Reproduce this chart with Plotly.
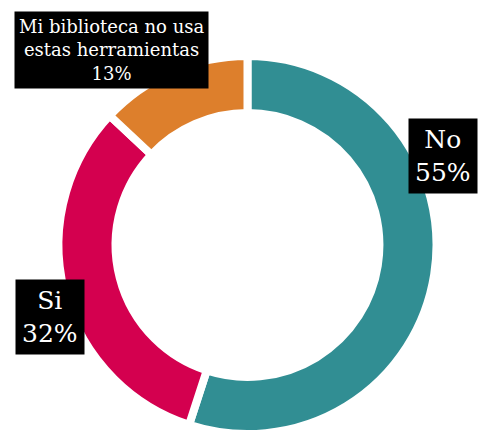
import plotly.graph_objects as go

labels = ["No", "Si", "Mi biblioteca no usa estas herramientas"]
values = [55, 32, 13]
colors = ["#318E93", "#D4004F", "#DD7F2C"]
ann_texts = ["No<br>55%", "Si<br>32%", "Mi biblioteca no usa<br>estas herramientas<br>13%"]

W, H = 479, 434
FONT = "DejaVu Serif"

fig = go.Figure(go.Pie(
    labels=labels,
    values=values,
    marker=dict(colors=colors, line=dict(color="white", width=8)),
    hole=0.698,
    sort=False,
    direction="clockwise",
    rotation=0,
    textinfo="none",
    hoverinfo="label+percent",
    domain=dict(x=[58.5 / W, 436.5 / W], y=[0, 378 / H]),
    showlegend=False,
))

# label positions (pixel centers), font sizes, padding
ann_pos = [(442.5, 156.5, 25, 6), (50, 316.5, 25, 6), (111, 50, 18, 4)]
for txt, (px, py, fs, pad) in zip(ann_texts, ann_pos):
    fig.add_annotation(
        x=px / W, y=1 - py / H, xref="paper", yref="paper",
        text=txt, showarrow=False, xanchor="center", yanchor="middle",
        font=dict(family=FONT, size=fs, color="white"),
        bgcolor="black", borderpad=pad, align="center",
    )

fig.update_layout(
    width=W, height=H,
    margin=dict(l=0, r=0, t=0, b=0),
    paper_bgcolor="white", plot_bgcolor="white",
)

fig.write_html("out.html")
